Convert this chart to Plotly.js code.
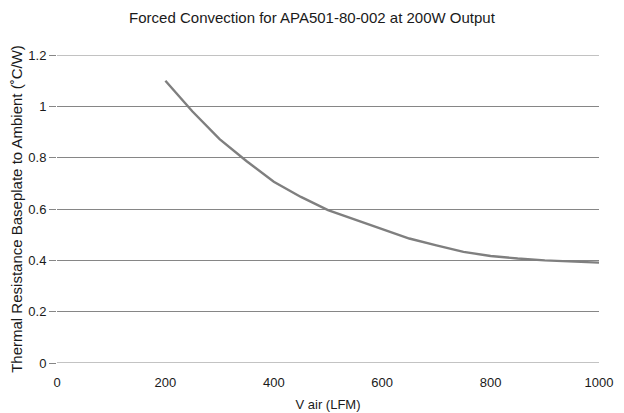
<!DOCTYPE html>
<html><head><meta charset="utf-8">
<script src="https://cdn.plot.ly/plotly-3.0.1.min.js"></script>
<style>html,body{margin:0;padding:0;background:#fff}#c{width:624px;height:413px}</style>
</head><body><div id="c"></div>
<script>
const vAir = [200,250,300,350,400,450,500,550,600,650,700,750,800,850,900,950,1000];
const thermalRes = [1.10,0.98,0.872,0.786,0.706,0.647,0.596,0.559,0.521,0.485,0.458,0.433,0.417,0.407,0.400,0.395,0.391];
const xTicks = [0,200,400,600,800,1000];
const yTicks = [0,0.2,0.4,0.6,0.8,1,1.2];
const yTickText = ['0','0.2','0.4','0.6','0.8','1','1.2'];

const fam = 'Liberation Sans, Arial, Helvetica, sans-serif';
const gridCol = '#868686';
// Plotly omits grid lines that sit exactly on the plot edges; draw those as shapes
const edgeGrid = [yTicks[0], yTicks[yTicks.length-1]].map(v => ({
  type:'line', xref:'paper', yref:'y', x0:0, x1:1, y0:v, y1:v,
  line:{color:gridCol, width:1}, layer:'below'
}));
Plotly.newPlot('c', [{
  x: vAir, y: thermalRes, type:'scatter', mode:'lines',
  line:{color:'#7f7f7f', width:2.4}, hoverinfo:'skip'
}], {
  width:624, height:413,
  margin:{l:57, r:25, t:55, b:50},
  paper_bgcolor:'#fff', plot_bgcolor:'#fff',
  font:{family:fam, size:13, color:'#1a1a1a'},
  showlegend:false,
  shapes: edgeGrid,
  title:{text:'Forced Convection for APA501-80-002 at 200W Output', font:{family:fam,size:15,color:'#1a1a1a'}, x:0.5, xanchor:'center', y:0.958, yanchor:'middle', yref:'container'},
  xaxis:{range:[0,1000], tickvals:xTicks, showgrid:false, zeroline:false, showline:false, ticks:'', ticklabelstandoff:10,
    title:{text:'V air (LFM)', font:{size:13}, standoff:10}},
  yaxis:{range:[0,1.2], tickvals:yTicks, ticktext:yTickText, showgrid:true, gridcolor:gridCol, gridwidth:1, zeroline:false, showline:false,
    ticks:'outside', ticklen:7, tickcolor:gridCol, tickwidth:1,
    title:{text:'Thermal Resistance Baseplate to Ambient (˚C/W)', font:{size:15}, standoff:2}}
}, {staticPlot:true, displayModeBar:false});
</script></body></html>
